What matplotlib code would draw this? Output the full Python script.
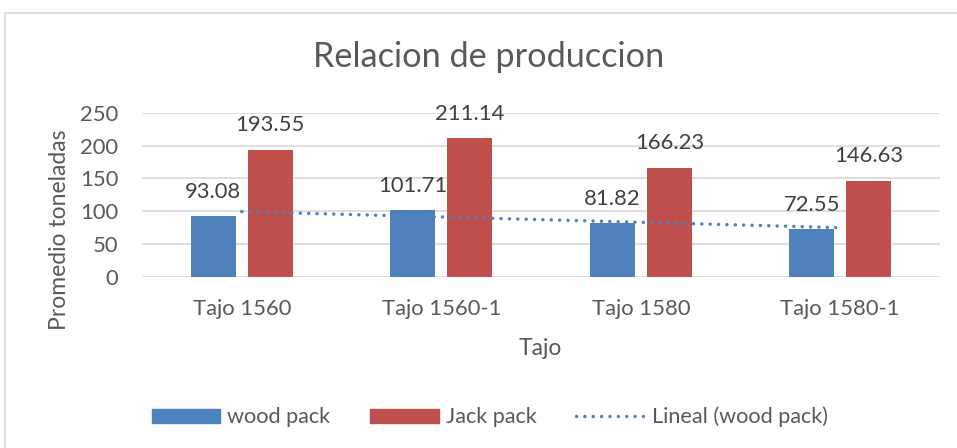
import numpy as np
import matplotlib
matplotlib.use("Agg")
import matplotlib.pyplot as plt
from matplotlib.patches import Patch, Rectangle
from matplotlib.lines import Line2D

categories = ["Tajo 1560", "Tajo 1560-1", "Tajo 1580", "Tajo 1580-1"]
wood_pack = [93.08, 101.71, 81.82, 72.55]
jack_pack = [193.55, 211.14, 166.23, 146.63]
y_ticks = [0, 50, 100, 150, 200, 250]

BLUE = "#4F81BD"
RED = "#C0504D"
TEXT = "#595959"
LABEL = "#404040"
GRID = "#D9D9D9"
DOTS = (0, (0.01, 2.4))

plt.rcParams["font.family"] = ["Lato", "DejaVu Sans"]

W, H = 957, 448
fig = plt.figure(figsize=(W / 100, H / 100), dpi=100)
# chart frame
fig.patches.append(Rectangle((5 / W, -0.1), 1.2, 1 - 13 / H + 0.1,
                             transform=fig.transFigure, fill=False,
                             edgecolor=GRID, linewidth=1.2))

ax = fig.add_axes([142 / W, 1 - 277 / H, (940 - 142) / W, (277 - 112.7) / H])
x = np.arange(len(categories))
w = 0.226
off = 0.143
ax.bar(x - off, wood_pack, w, color=BLUE, zorder=3)
ax.bar(x + off, jack_pack, w, color=RED, zorder=3)

for xs, vals in ((x - off, wood_pack), (x + off, jack_pack)):
    for xi, v in zip(xs, vals):
        ax.annotate(f"{v:.2f}", (xi, v), xytext=(0, 17.5), textcoords="offset points",
                    ha="center", va="center", fontsize=15.8, color=LABEL)

# linear trend of wood pack
k = np.arange(1, len(wood_pack) + 1)
slope, intercept = np.polyfit(k, wood_pack, 1)
trend = slope * k + intercept
ax.plot(x, trend, color=BLUE, linewidth=2.5, linestyle=DOTS,
        dash_capstyle="round", zorder=4)

ax.set_xlim(-0.5, len(categories) - 0.5)
ax.set_ylim(0, 250)
ax.set_yticks(y_ticks)
ax.set_xticks(x)
ax.set_xticklabels(categories)
ax.tick_params(axis="both", length=0, labelsize=15.8, labelcolor=TEXT)
ax.tick_params(axis="x", pad=16)
ax.tick_params(axis="y", pad=17)
ax.grid(axis="y", color=GRID, linewidth=1.2, zorder=0)
for s in ["top", "right", "left", "bottom"]:
    ax.spines[s].set_visible(False)
ax.set_axisbelow(True)

fig.text(59 / W, 1 - 229.5 / H, "Promedio toneladas", rotation=90, ha="center",
         va="center", fontsize=16.5, color=TEXT)
fig.text(540 / W, 1 - 348 / H, "Tajo", ha="center", va="center",
         fontsize=16.5, color=TEXT)
fig.text(489 / W, 1 - 57 / H, "Relacion de produccion", ha="center", va="center",
         fontsize=24.7, color=TEXT)

handles = [Patch(color=BLUE), Patch(color=RED),
           Line2D([0], [0], color=BLUE, linewidth=2.5, linestyle=DOTS,
                  dash_capstyle="round")]
fig.legend(handles, ["wood pack", "Jack pack", "Lineal (wood pack)"],
           loc="center left", bbox_to_anchor=(152 / W, 1 - 417 / H), ncol=3,
           frameon=False, fontsize=15.6, labelcolor=TEXT, handlelength=3.15,
           handleheight=0.6, handletextpad=0.32, columnspacing=1.85,
           borderpad=0, borderaxespad=0)

fig.savefig("out.png", dpi=100)
